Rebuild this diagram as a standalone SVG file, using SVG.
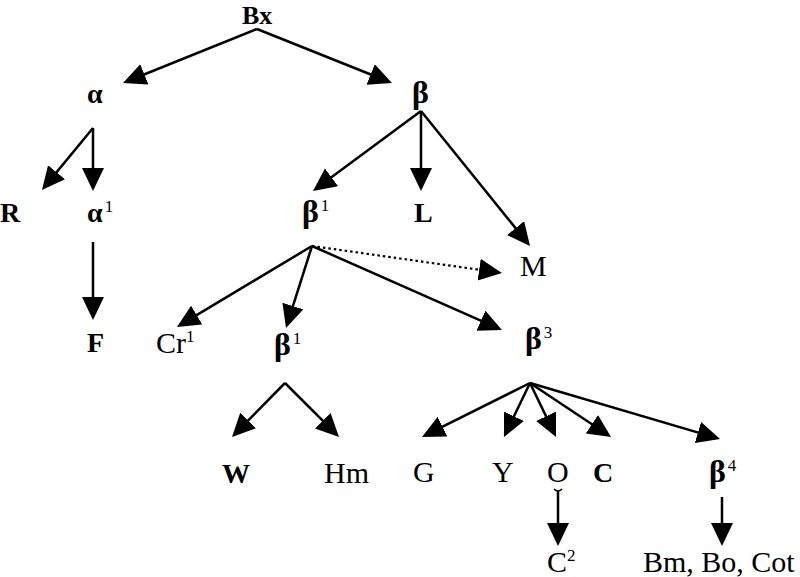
<svg xmlns="http://www.w3.org/2000/svg" width="800" height="577" viewBox="0 0 800 577">
<defs>
<marker id="ah" markerUnits="userSpaceOnUse" markerWidth="24" markerHeight="24" refX="19" refY="11" orient="auto">
<path d="M0,0 L23,11 L0,22 z" fill="#000"/>
</marker>
<style>
.b{font-family:"Liberation Serif",serif;font-weight:bold;font-size:28px;fill:#000}
.bb{font-size:32px}
.r{font-family:"Liberation Serif",serif;font-size:30px;fill:#000}
.s{font-family:"Liberation Serif",serif;font-weight:normal;font-size:17px}
.e{stroke:#000;stroke-width:2.5;fill:none;marker-end:url(#ah)}
.d{stroke-dasharray:2.5,3;stroke-width:2.2}
</style>
</defs>
<rect width="800" height="577" fill="#fff"/>
<g id="connectors">
<line class="e" x1="257" y1="29" x2="126.7" y2="81.5"/>
<line class="e" x1="257" y1="29" x2="388.3" y2="81.5"/>
<line class="e" x1="93" y1="128" x2="44.5" y2="186.9"/>
<line class="e" x1="93" y1="128" x2="93" y2="187"/>
<line class="e" x1="421" y1="111" x2="316.2" y2="188.6"/>
<line class="e" x1="421" y1="111" x2="421" y2="187"/>
<line class="e" x1="421" y1="111" x2="527.5" y2="242.9"/>
<line class="e d" x1="312" y1="246" x2="498" y2="272.4"/>
<line class="e" x1="312" y1="246" x2="180.4" y2="324.9"/>
<line class="e" x1="312" y1="246" x2="287.2" y2="324.2"/>
<line class="e" x1="312" y1="246" x2="498.3" y2="328.4"/>
<line class="e" x1="93" y1="242" x2="93" y2="316"/>
<line class="e" x1="285" y1="383" x2="234.8" y2="434.1"/>
<line class="e" x1="285" y1="383" x2="336.2" y2="434.2"/>
<line class="e" x1="530" y1="383" x2="425.6" y2="435.2"/>
<line class="e" x1="530" y1="383" x2="505.7" y2="433.4"/>
<line class="e" x1="530" y1="383" x2="554.3" y2="433.4"/>
<line class="e" x1="530" y1="383" x2="607.7" y2="434.8"/>
<line class="e" x1="530" y1="383" x2="716.2" y2="437.9"/>
<path d="M554,489 Q558,493 562,489" stroke="#000" stroke-width="1.5" fill="none"/>
<line class="e" x1="558" y1="491" x2="558" y2="542"/>
<line class="e" x1="722" y1="497" x2="722" y2="542"/>
</g>
<g id="Bx"><text class="b" x="242" y="24" style="font-size:26px">Bx</text></g>
<g id="alpha"><text class="b" x="87" y="103">α</text></g>
<g id="beta"><text class="b bb" x="412" y="103">β</text></g>
<g id="R"><text class="b" x="0" y="222">R</text></g>
<g id="alpha1"><text class="b" x="87" y="222">α<tspan class="s" dx="2" dy="-10">1</tspan></text></g>
<g id="beta1"><text class="b bb" x="302" y="222">β<tspan class="s" dx="2" dy="-11">1</tspan></text></g>
<g id="L"><text class="b" x="414" y="222">L</text></g>
<g id="M"><text class="r" x="520" y="276">M</text></g>
<g id="F"><text class="b" x="87" y="352">F</text></g>
<g id="Cr1"><text class="r" x="156" y="353">Cr<tspan class="s" dy="-11">1</tspan></text></g>
<g id="beta1b"><text class="b bb" x="274" y="355">β<tspan class="s" dx="2" dy="-11">1</tspan></text></g>
<g id="beta3"><text class="b bb" x="525" y="349">β<tspan class="s" dx="2" dy="-11">3</tspan></text></g>
<g id="W"><text class="b" x="222" y="483">W</text></g>
<g id="Hm"><text class="r" x="324" y="483">Hm</text></g>
<g id="G"><text class="r" x="413" y="482">G</text></g>
<g id="Y"><text class="r" x="492" y="482">Y</text></g>
<g id="O"><text class="r" x="547" y="482">O</text></g>
<g id="C"><text class="b" x="593" y="482">C</text></g>
<g id="beta4"><text class="b bb" x="709" y="482">β<tspan class="s" dx="2" dy="-11">4</tspan></text></g>
<g id="C2"><text class="r" x="547" y="572">C<tspan class="s" dy="-11">2</tspan></text></g>
<g id="BmBoCot"><text class="r" x="643" y="572">Bm, Bo, Cot</text></g>
</svg>
